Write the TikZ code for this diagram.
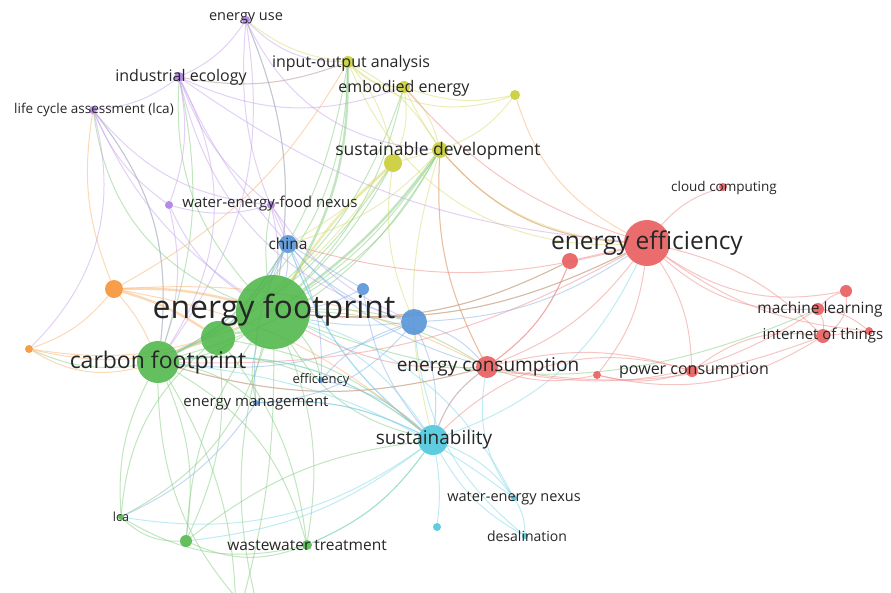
\documentclass[tikz,border=0pt]{standalone}
\usepackage{fontspec}
\setmainfont{Open Sans}
\usepackage{tikz}
\usetikzlibrary{backgrounds}
\usepackage{xcolor}
\definecolor{vred}{RGB}{232,88,88}
\definecolor{vgreen}{RGB}{78,182,72}
\definecolor{vblue}{RGB}{82,146,216}
\definecolor{vyellow}{RGB}{198,204,48}
\definecolor{vpurple}{RGB}{172,122,226}
\definecolor{vcyan}{RGB}{72,198,220}
\definecolor{vorange}{RGB}{245,145,48}
\definecolor{txt}{RGB}{38,38,38}

\begin{document}
\begin{tikzpicture}[x=1pt,y=-1pt,line cap=round,
  kw/.style={circle,inner sep=0pt,minimum size=#1,draw=none,opacity=0.88},
  lbl/.style={text=txt,inner sep=0pt,font=\fontsize{#1}{#1}\selectfont},
  ln/.style={#1!70,opacity=0.5,line width=1pt},
  fat/.style={line width=2.4pt}]
\useasboundingbox (0,0) rectangle (891,592);
% keywords
\node[kw=8,fill=vpurple] (euse) at (246,20) {};
\node[kw=10,fill=vpurple] (indeco) at (179,77) {};
\node[kw=8,fill=vpurple] (lcaa) at (93,110) {};
\node[kw=8,fill=vpurple] (pur1) at (169,205) {};
\node[kw=8,fill=vpurple] (wefn) at (271,205) {};
\node[kw=12,fill=vyellow] (ioa) at (348,62) {};
\node[kw=12,fill=vyellow] (emb) at (404,87) {};
\node[kw=10,fill=vyellow] (yel1) at (515,95) {};
\node[kw=16,fill=vyellow] (sdev) at (440,150) {};
\node[kw=18,fill=vyellow] (yel2) at (393,163) {};
\node[kw=18,fill=vblue] (china) at (288,244) {};
\node[kw=12,fill=vblue] (blu1) at (363,289) {};
\node[kw=26,fill=vblue] (blu2) at (414,322) {};
\node[kw=6,fill=vblue] (effi) at (321,380) {};
\node[kw=6,fill=vblue] (emgt) at (256,403) {};
\node[kw=74,fill=vgreen] (efp) at (273,312) {};
\node[kw=34,fill=vgreen] (grn1) at (218,338) {};
\node[kw=42,fill=vgreen] (cfp) at (158,362) {};
\node[kw=6,fill=vgreen] (lcas) at (121,517) {};
\node[kw=12,fill=vgreen] (grn2) at (186,541) {};
\node[kw=10,fill=vgreen] (wwt) at (307,545) {};
\node[kw=18,fill=vorange] (or1) at (114,289) {};
\node[kw=8,fill=vorange] (or2) at (29,349) {};
\node[kw=30,fill=vcyan] (sust) at (433,440) {};
\node[kw=6,fill=vcyan] (wen) at (514,498) {};
\node[kw=6,fill=vcyan] (desal) at (525,536) {};
\node[kw=8,fill=vcyan] (cyn1) at (437,527) {};
\node[kw=46,fill=vred] (eeff) at (647,243) {};
\node[kw=16,fill=vred] (red1) at (570,261) {};
\node[kw=8,fill=vred] (cloud) at (723,187) {};
\node[kw=22,fill=vred] (econ) at (487,367) {};
\node[kw=8,fill=vred] (red2) at (597,375) {};
\node[kw=12,fill=vred] (pcon) at (692,371) {};
\node[kw=12,fill=vred] (ml) at (818,309) {};
\node[kw=12,fill=vred] (red3) at (846,291) {};
\node[kw=14,fill=vred] (iot) at (823,336) {};
\node[kw=8,fill=vred] (red4) at (869,331) {};
\coordinate (off1) at (236,625);
\coordinate (off2) at (262,625);
% links
\begin{pgfonlayer}{background}
\clip (0,0) rectangle (891,592);
\foreach \t/\b in {cfp/15,china/15,lcas/22,grn2/-15,wwt/15,sust/-22,econ/15,eeff/-15,sdev/-15,emb/-15,yel2/-8,euse/-15,indeco/22,effi/15,emgt/-15,blu2/8,wefn/8,lcaa/30,red1/-15,ml/-22,off1/8,off2/-15}
  \draw[ln=vgreen] (efp) to[bend left=\b] (\t);
\draw[ln=vgreen,fat] (efp) to[bend left=8] (grn1);
\draw[ln=vgreen,fat] (efp) to[bend left=-15] (ioa);
\draw[ln=vgreen,fat] (efp) to[bend left=-8] (sdev);
\foreach \t/\b in {lcas/-15,grn2/15,wwt/22,ioa/-30,emb/-22,sdev/-22,yel2/-15,or2/15,lcaa/-22,sust/22,econ/-15,indeco/-15,effi/15,emgt/15,off1/15,off2/-22}
  \draw[ln=vgreen] (cfp) to[bend left=\b] (\t);
\draw[ln=vgreen,fat] (cfp) to[bend left=8] (grn1);
\foreach \t/\b in {sdev/-15,ioa/-15,sust/15,wwt/15,lcas/-22,grn2/15}
  \draw[ln=vgreen] (grn1) to[bend left=\b] (\t);
\foreach \t/\b in {lcas/22,wwt/-22,sust/15}
  \draw[ln=vgreen] (grn2) to[bend left=\b] (\t);
\draw[ln=vgreen] (wwt) to[bend left=22] (lcas);
\draw[ln=vgreen] (wwt) to[bend left=-15] (sust);
\foreach \t/\b in {emb/-22,yel1/-30,sdev/15,yel2/15,eeff/-35,euse/15,indeco/15}
  \draw[ln=vyellow] (ioa) to[bend left=\b] (\t);
\foreach \t/\b in {yel1/-15,sdev/15,yel2/15,eeff/-30}
  \draw[ln=vyellow] (emb) to[bend left=\b] (\t);
\draw[ln=vyellow] (yel1) to[bend left=15] (sdev);
\draw[ln=vorange] (yel1) to[bend left=-22] (eeff);
\foreach \t/\b in {yel2/0,eeff/-22,econ/-15,sust/-15,china/15}
  \draw[ln=vyellow] (sdev) to[bend left=\b] (\t);
\foreach \t/\b in {china/8,blu2/-15,grn1/8}
  \draw[ln=vyellow] (yel2) to[bend left=\b] (\t);
\draw[ln=vyellow,fat] (yel2) to[bend left=-8] (efp);
\foreach \t/\b in {indeco/15,ioa/-22,efp/15,china/-15,cfp/22,sdev/-30}
  \draw[ln=vpurple] (euse) to[bend left=\b] (\t);
\foreach \t/\b in {lcaa/15,ioa/-15,wefn/-15,pur1/15,cfp/30,emb/-22,china/-8,blu2/-30,eeff/-15}
  \draw[ln=vpurple] (indeco) to[bend left=\b] (\t);
\foreach \t/\b in {pur1/-15,cfp/22,efp/-15,or2/30,wefn/-22}
  \draw[ln=vpurple] (lcaa) to[bend left=\b] (\t);
\foreach \t/\b in {pur1/15,china/8,efp/8,blu2/-15}
  \draw[ln=vpurple] (wefn) to[bend left=\b] (\t);
\draw[ln=vpurple] (pur1) to[bend left=-15] (efp);
\draw[ln=vpurple] (pur1) to[bend left=15] (cfp);
\foreach \t/\b in {efp/8,effi/15,emgt/-15,blu2/-15,blu1/0,cfp/15,econ/-15,sust/-15,grn1/8}
  \draw[ln=vblue] (china) to[bend left=\b] (\t);
\foreach \t/\b in {efp/8,econ/15,sust/15,effi/-15,eeff/-15,emgt/22,cfp/15}
  \draw[ln=vblue] (blu2) to[bend left=\b] (\t);
\draw[ln=vblue] (blu1) to[bend left=8] (efp);
\draw[ln=vblue] (blu1) to[bend left=-15] (sust);
\draw[ln=vblue] (effi) to[bend left=15] (sust);
\draw[ln=vblue] (emgt) to[bend left=15] (sust);
\draw[ln=vblue] (emgt) to[bend left=15] (lcas);
\foreach \t/\b in {wen/15,desal/-15,cyn1/8,efp/-15,cfp/-22,econ/15,wwt/15,lcas/22,grn2/15,eeff/-22,emgt/-15,china/15}
  \draw[ln=vcyan] (sust) to[bend left=\b] (\t);
\foreach \t/\b in {desal/15,econ/22,efp/-22,cfp/-15}
  \draw[ln=vcyan] (wen) to[bend left=\b] (\t);
\draw[ln=vcyan] (desal) to[bend left=22] (blu2);
\foreach \t/\b in {red1/0,cloud/15,ml/-22,red3/-22,iot/15,red4/-15,pcon/15,econ/15,red2/15,efp/15,cfp/15,china/15,sdev/22,emb/15}
  \draw[ln=vred] (eeff) to[bend left=\b] (\t);
\draw[ln=vred] (red1) to[bend left=15] (econ);
\draw[ln=vred] (red1) to[bend left=15] (efp);
\foreach \t/\b in {pcon/15,red2/-15,ml/-22,iot/-15,sust/-15,efp/15,cfp/15,red1/-15,sdev/15}
  \draw[ln=vred] (econ) to[bend left=\b] (\t);
\foreach \t/\b in {iot/22,red2/15,sust/-30}
  \draw[ln=vred] (pcon) to[bend left=\b] (\t);
\foreach \t/\b in {red3/15,iot/15,red4/15}
  \draw[ln=vred] (ml) to[bend left=\b] (\t);
\draw[ln=vred] (iot) to (red4);
\draw[ln=vred] (iot) to[bend left=-30] (red3);
\draw[ln=vred] (red2) to[bend left=-22] (iot);
\foreach \t/\b in {or2/15,cfp/8,ioa/-15,lcaa/15,sust/15,econ/15}
  \draw[ln=vorange] (or1) to[bend left=\b] (\t);
\draw[ln=vorange,fat] (or1) to[bend left=8] (efp);
\draw[ln=vorange,fat] (or1) to[bend left=8] (grn1);
\foreach \t/\b in {cfp/-22,efp/-15,grn1/-15}
  \draw[ln=vorange] (or2) to[bend left=\b] (\t);
\end{pgfonlayer}
% labels
\node[lbl=14.5] (euse-t) at (246,18) {energy use};
\node[lbl=16] (indeco-t) at (181,77) {industrial ecology};
\node[lbl=13.5] (lcaa-t) at (94,110) {life cycle assessment (lca)};
\node[lbl=16] (ioa-t) at (351,63) {input-output analysis};
\node[lbl=16] (emb-t) at (404,88) {embodied energy};
\node[lbl=17.5] (sdev-t) at (438,151) {sustainable development};
\node[lbl=15] (wefn-t) at (270,204) {water-energy-food nexus};
\node[lbl=15.5] (china-t) at (288,244) {china};
\node[lbl=32] (efp-t) at (274,310) {energy footprint};
\node[lbl=23] (cfp-t) at (158,362) {carbon footprint};
\node[lbl=24.5] (eeff-t) at (647,243) {energy efficiency};
\node[lbl=13.5] (cloud-t) at (724,188) {cloud computing};
\node[lbl=15.5] (ml-t) at (820,309) {machine learning};
\node[lbl=15] (iot-t) at (823,336) {internet of things};
\node[lbl=19] (econ-t) at (488,367) {energy consumption};
\node[lbl=16] (pcon-t) at (694,371) {power consumption};
\node[lbl=13] (effi-t) at (321,380) {efficiency};
\node[lbl=15] (emgt-t) at (256,403) {energy management};
\node[lbl=19] (sust-t) at (434,440) {sustainability};
\node[lbl=14.5] (wen-t) at (514,498) {water-energy nexus};
\node[lbl=14] (desal-t) at (527,536) {desalination};
\node[lbl=12.5] (lcas-t) at (121,517) {lca};
\node[lbl=15.5] (wwt-t) at (307,545) {wastewater treatment};
\end{tikzpicture}
\end{document}
